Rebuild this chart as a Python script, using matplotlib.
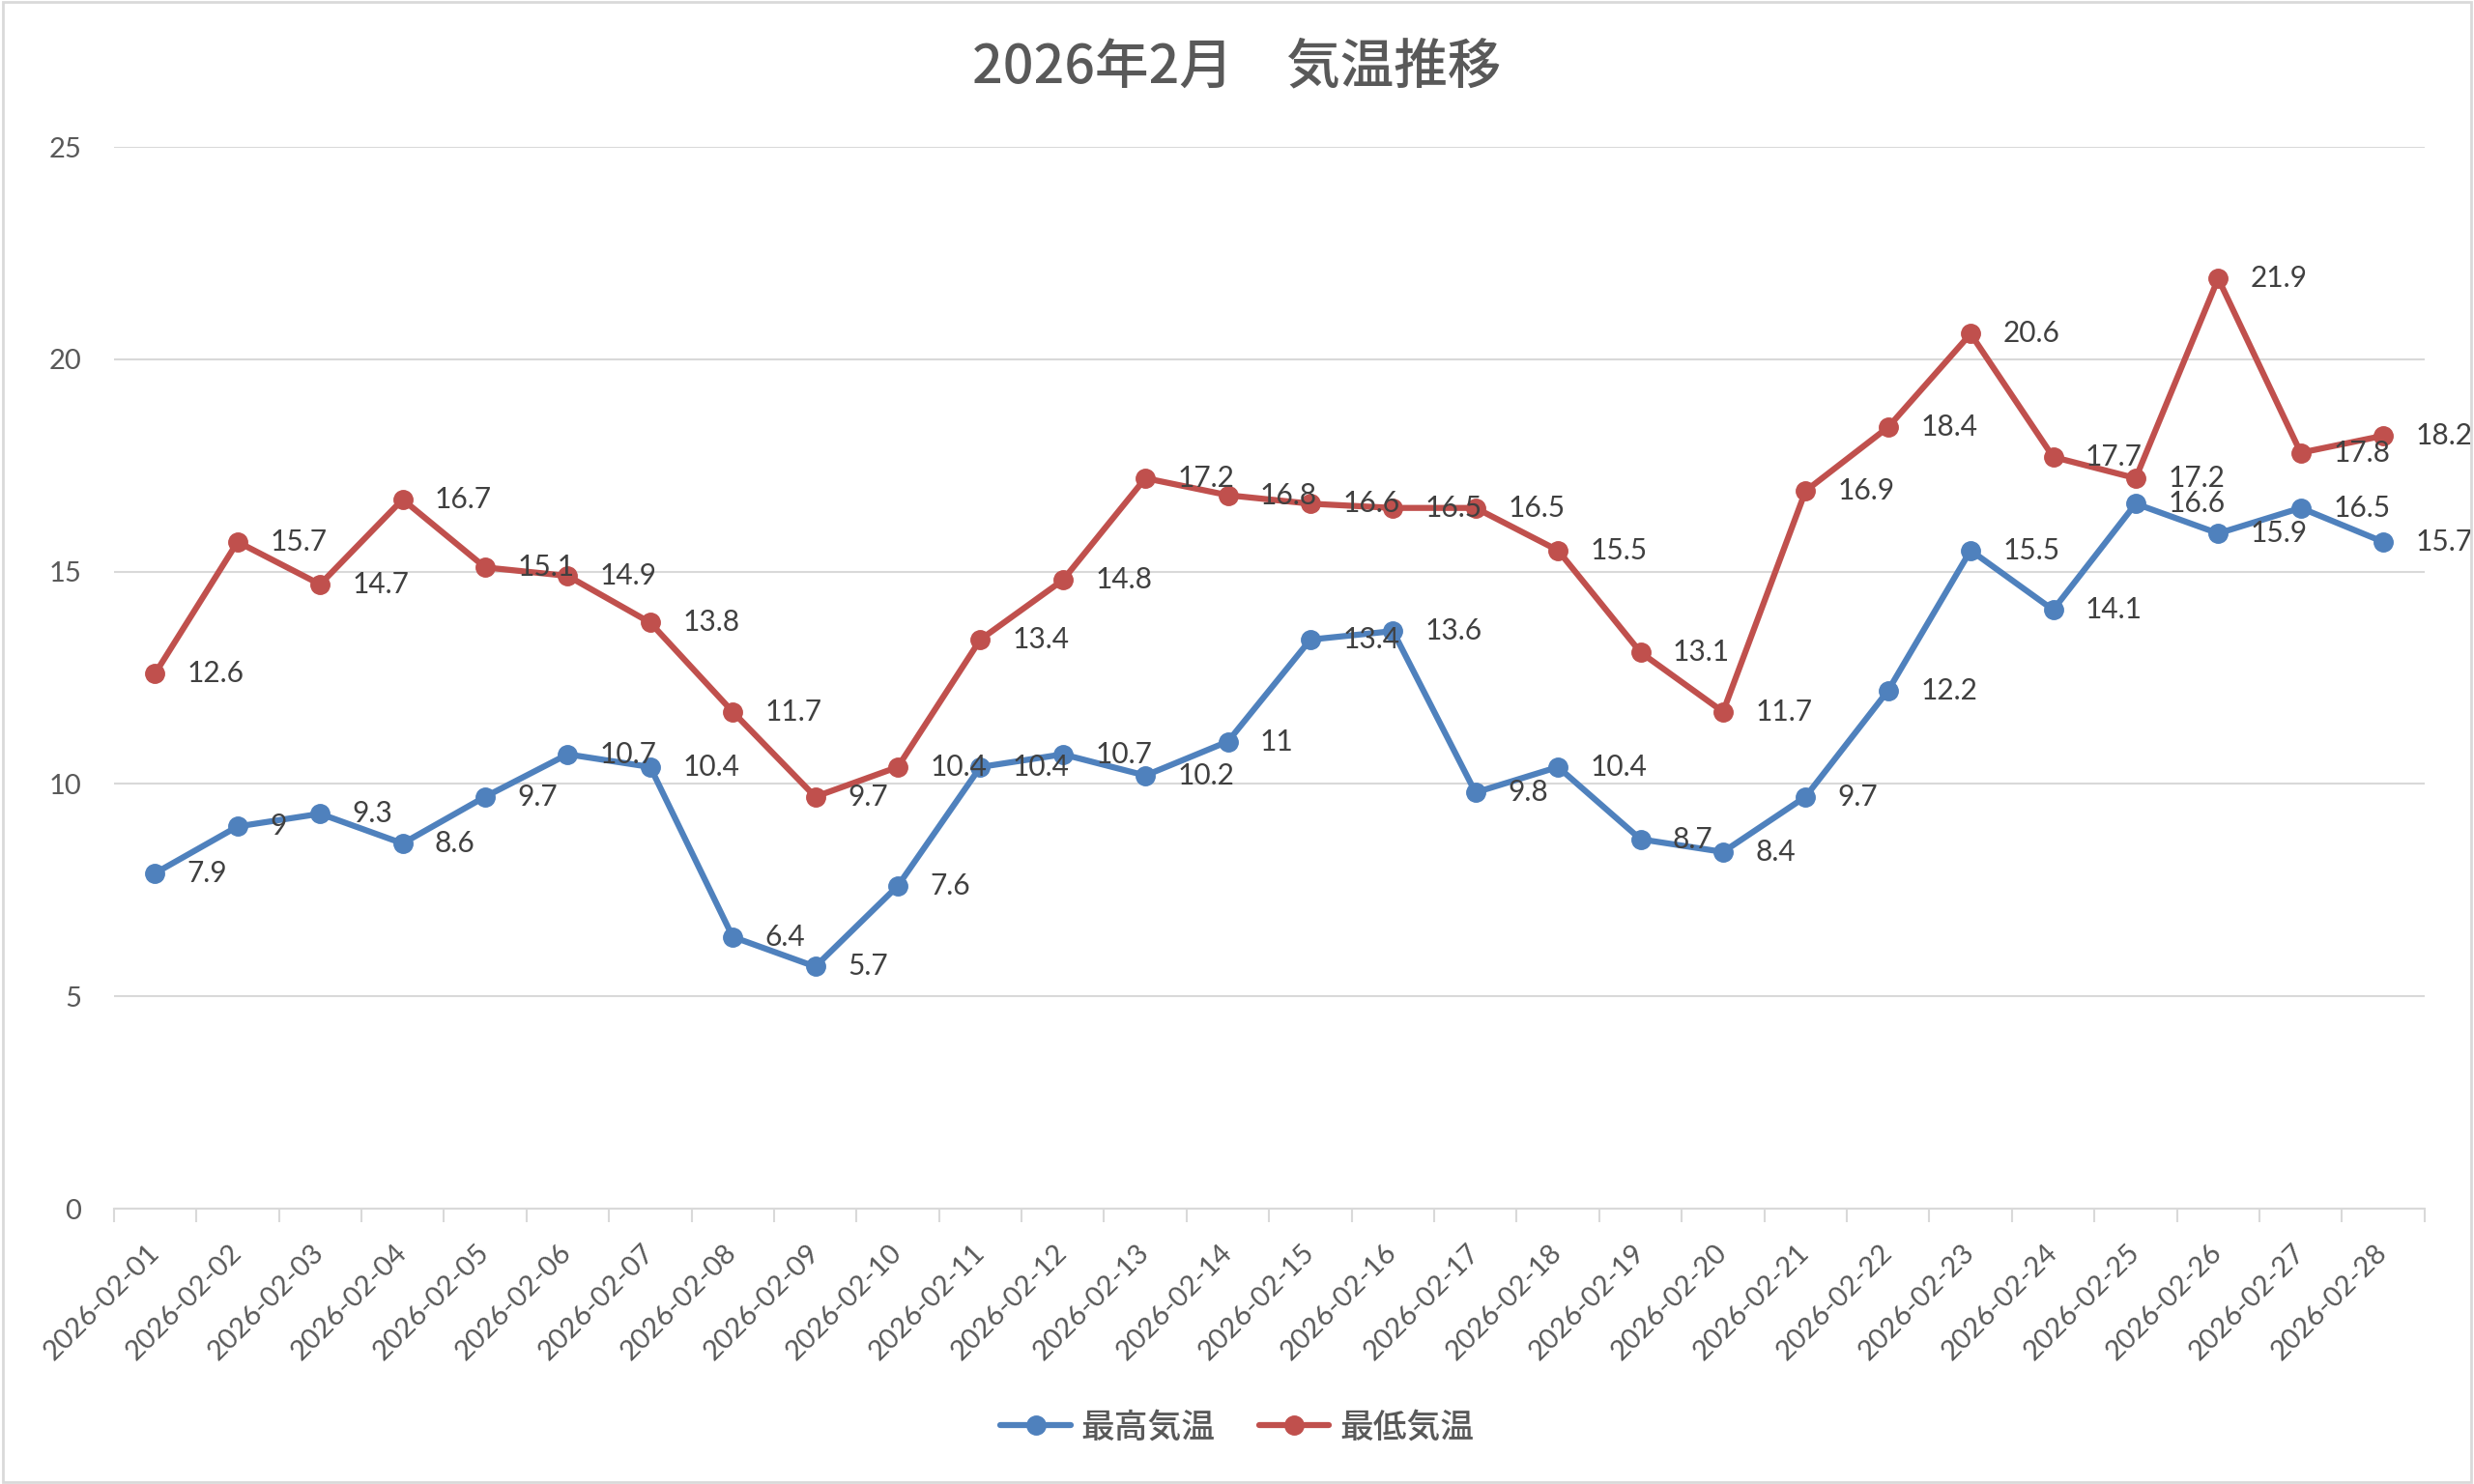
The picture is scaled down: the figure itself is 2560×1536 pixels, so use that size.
import numpy as np
import matplotlib.pyplot as plt
from matplotlib.patches import Rectangle

plt.rcParams['font.family'] = ['Lato', 'Noto Sans CJK JP', 'DejaVu Sans']

dates = ['2026-02-%02d' % d for d in range(1, 29)]
t_high = [7.9, 9, 9.3, 8.6, 9.7, 10.7, 10.4, 6.4, 5.7, 7.6, 10.4, 10.7, 10.2, 11,
          13.4, 13.6, 9.8, 10.4, 8.7, 8.4, 9.7, 12.2, 15.5, 14.1, 16.6, 15.9, 16.5, 15.7]
t_low = [12.6, 15.7, 14.7, 16.7, 15.1, 14.9, 13.8, 11.7, 9.7, 10.4, 13.4, 14.8, 17.2, 16.8,
         16.6, 16.5, 16.5, 15.5, 13.1, 11.7, 16.9, 18.4, 20.6, 17.7, 17.2, 21.9, 17.8, 18.2]
series_names = ['最高気温', '最低気温']
title = '2026年2月　気温推移'

blue = '#4F81BD'
red = '#C0504D'
grey = '#595959'

fig = plt.figure(figsize=(25.6, 15.36), dpi=100)
ax = fig.add_axes([0.046, 0.1855, 0.934, 0.7155])

x = np.arange(len(dates))
for vals, col, name in [(t_high, blue, series_names[0]), (t_low, red, series_names[1])]:
    ax.plot(x, vals, color=col, lw=4.5, marker='o', ms=14, label=name,
            solid_capstyle='round', zorder=3)
    for xi, v in zip(x, vals):
        ax.annotate('%g' % v, (xi, v), xytext=(24, 0), textcoords='offset points',
                    ha='left', va='center', fontsize=21.5, color='#404040', zorder=4)

ax.set_xlim(-0.5, len(dates) - 0.5)
ax.set_ylim(0, 25)
ax.set_yticks([0, 5, 10, 15, 20, 25])
ax.grid(axis='y', color='#D9D9D9', lw=1.5)
ax.set_axisbelow(True)
for s in ['top', 'right', 'left']:
    ax.spines[s].set_visible(False)
ax.spines['bottom'].set_color('#D9D9D9')
ax.spines['bottom'].set_linewidth(1.5)

ax.set_xticks(x)
ax.set_xticklabels(dates, rotation=45, ha='right', va='center', rotation_mode='anchor')
ax.set_xticks(np.arange(-0.5, len(dates)), minor=True)
ax.tick_params(axis='x', which='major', length=0, pad=30, labelsize=21, labelcolor=grey)
ax.tick_params(axis='x', which='minor', length=10, width=1.5, color='#D9D9D9')
ax.tick_params(axis='y', length=0, pad=24, labelsize=21, labelcolor=grey)

fig.text(0.5, 0.955, title, ha='center', va='center', fontsize=40, color=grey,
         family=['Noto Sans CJK JP'], weight='medium')

fig.legend(loc='center', bbox_to_anchor=(0.5, 0.038), ncol=2, frameon=False,
           prop={'family': 'Noto Sans CJK JP', 'size': 25, 'weight': 'medium'},
           labelcolor=grey, handlelength=2.1, columnspacing=1.3, handletextpad=0.3)

fig.patches.append(Rectangle((0.001, 0.001), 0.998, 0.998, transform=fig.transFigure,
                             fill=False, edgecolor='#D9D9D9', lw=2))

fig.savefig('out.png', dpi=100)
